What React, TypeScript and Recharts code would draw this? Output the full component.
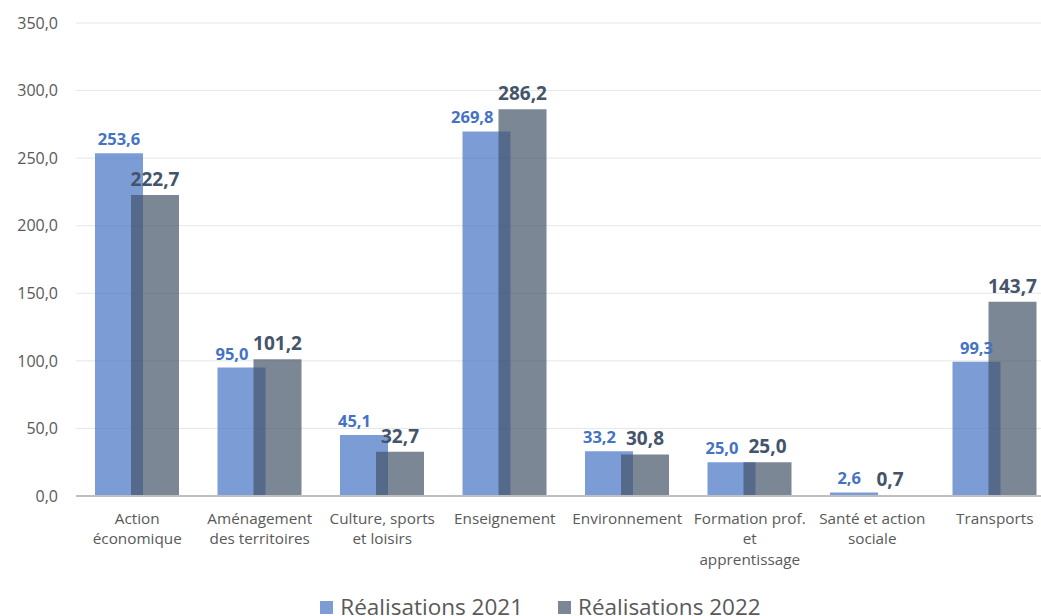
import { BarChart, Bar, XAxis, YAxis, CartesianGrid, Legend, LabelList } from 'recharts';

const categories = [
  'Action économique',
  'Aménagement des territoires',
  'Culture, sports et loisirs',
  'Enseignement',
  'Environnement',
  'Formation prof. et apprentissage',
  'Santé et action sociale',
  'Transports',
];

// how each category name is broken over lines under the axis
const tickLines: string[][] = [
  ['Action', 'économique'],
  ['Aménagement', 'des territoires'],
  ['Culture, sports', 'et loisirs'],
  ['Enseignement'],
  ['Environnement'],
  ['Formation prof.', 'et', 'apprentissage'],
  ['Santé et action', 'sociale'],
  ['Transports'],
];

const real2021 = [253.6, 95.0, 45.1, 269.8, 33.2, 25.0, 2.6, 99.3];
const real2022 = [222.7, 101.2, 32.7, 286.2, 30.8, 25.0, 0.7, 143.7];
const yTicks = [0, 50, 100, 150, 200, 250, 300, 350];

const data = categories.map((name, i) => ({
  name,
  r2021: real2021[i],
  r2022: real2022[i],
}));

const BLUE = '#4472C4';
const SLATE = '#44546A';
const FONT = '"Open Sans", "Noto Sans", sans-serif';

const fmt = (v: number) => v.toFixed(1).replace('.', ',');

function CategoryTick({ x, y, index }: any) {
  const lines = tickLines[index] || [];
  return (
    <text x={x} y={y} textAnchor="middle" fill="#595959" fontSize={15.3} fontFamily={FONT}>
      {lines.map((l, i) => (
        <tspan key={i} x={x} dy={i === 0 ? 19.5 : 20.5}>
          {l}
        </tspan>
      ))}
    </text>
  );
}

// 2021 label: centred, but pushed left when it would run into the 2022 label
function Label2021(props: any) {
  const { x, y, width, index } = props;
  const v = real2021[index];
  const other = real2022[index];
  const clash = Math.abs(v - other) * (471 / 350) < 24;
  const tx = clash ? x + width - 17 : x + width / 2;
  return (
    <text
      x={tx}
      y={y - 8}
      textAnchor={clash ? 'end' : 'middle'}
      fill={BLUE}
      fontSize={16.5}
      fontWeight="bold"
      fontFamily={FONT}
    >
      {fmt(v)}
    </text>
  );
}

function LegendBox() {
  const items = [
    { label: 'Réalisations 2021', color: BLUE },
    { label: 'Réalisations 2022', color: SLATE },
  ];
  return (
    <div style={{ display: 'flex', justifyContent: 'center', gap: 35, paddingLeft: 40, fontFamily: FONT }}>
      {items.map(it => (
        <div key={it.label} style={{ display: 'flex', alignItems: 'center', gap: 7 }}>
          <div style={{ width: 13, height: 13, backgroundColor: it.color, opacity: 0.7 }} />
          <span style={{ fontSize: 22.5, color: '#595959', lineHeight: '28px' }}>{it.label}</span>
        </div>
      ))}
    </div>
  );
}

export default function App() {
  return (
    <div style={{ position: 'absolute', left: 0, top: 0, width: 1041, height: 616, overflow: 'hidden', background: '#fff' }}>
      <BarChart
        width={1056}
        height={616}
        data={data}
        margin={{ top: 23, right: 0, bottom: 0, left: 0 }}
        barGap={-12}
        barSize={48}
      >
        <CartesianGrid vertical={false} stroke="#e6e6e6" />
        <XAxis
          dataKey="name"
          height={92}
          tick={<CategoryTick />}
          tickLine={false}
          axisLine={{ stroke: '#bfbfbf', strokeWidth: 2 }}
          interval={0}
        />
        <YAxis
          width={76}
          domain={[0, 350]}
          ticks={yTicks}
          tickFormatter={fmt}
          tickLine={false}
          axisLine={false}
          tickMargin={12}
          tick={{ fill: '#595959', fontSize: 16, fontFamily: FONT }}
        />
        <Legend
          verticalAlign="bottom"
          content={<LegendBox />}
          wrapperStyle={{ left: 0, width: 1041, bottom: -5 }}
        />
        <Bar dataKey="r2021" name="Réalisations 2021" fill={BLUE} fillOpacity={0.7} isAnimationActive={false}>
          <LabelList dataKey="r2021" content={<Label2021 />} />
        </Bar>
        <Bar dataKey="r2022" name="Réalisations 2022" fill={SLATE} fillOpacity={0.7} isAnimationActive={false}>
          <LabelList
            dataKey="r2022"
            position="top"
            offset={9}
            formatter={(v: any) => fmt(Number(v))}
            fill={SLATE}
            fontSize={19}
            fontWeight="bold"
            fontFamily={FONT}
          />
        </Bar>
      </BarChart>
    </div>
  );
}
